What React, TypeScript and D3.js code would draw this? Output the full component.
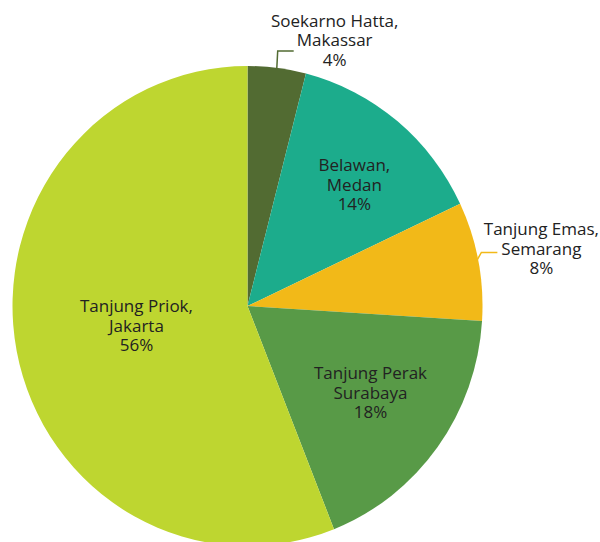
import React, { useEffect, useRef } from "react";
import * as d3 from "d3";

const ports = [
  "Soekarno Hatta,|Makassar",
  "Belawan,|Medan",
  "Tanjung Emas,|Semarang",
  "Tanjung Perak|Surabaya",
  "Tanjung Priok,|Jakarta",
];
const shares = [4, 14, 8, 18, 56];
const colors = ["#526b32", "#1cac8c", "#f2b918", "#589a47", "#bed630"];
// where the label sits: inside the slice, or outside with a leader line
const outside = [true, false, true, false, false];

export default function App() {
  const ref = useRef<SVGSVGElement>(null);

  useEffect(() => {
    const width = 600;
    const height = 542;
    const cx = 247.5;
    const cy = 306;
    const r = 235;
    const sy = 240 / 235; // source picture is a little taller than wide

    const svg = d3.select(ref.current);
    svg.selectAll("*").remove();
    svg.attr("width", width).attr("height", height);

    const data = shares.map((v, i) => ({ name: ports[i], value: v, color: colors[i], out: outside[i] }));

    const pie = d3
      .pie<any>()
      .sort(null)
      .value((d) => d.value);
    const arcs = pie(data);

    const arc = d3.arc<any>().innerRadius(0).outerRadius(r);

    //slices
    svg
      .append("g")
      .attr("transform", `translate(${cx},${cy}) scale(1,${sy})`)
      .selectAll("path")
      .data(arcs)
      .enter()
      .append("path")
      .attr("fill", (d) => d.data.color)
      .attr("d", (d) => arc(d));

    const pt = (a: number, rad: number) => [cx + rad * Math.sin(a), cy - rad * Math.cos(a) * sy];

    const labels = svg
      .append("g")
      .attr("font-family", "'Open Sans', sans-serif")
      .attr("font-size", 17)
      .attr("fill", "#222")
      .attr("text-anchor", "middle");

    arcs.forEach((d) => {
      const mid = (d.startAngle + d.endAngle) / 2;
      const lines = [d.data.name.split("|")[0], d.data.name.split("|")[1], d.data.value + "%"];
      let x: number, y: number;
      if (!d.data.out) {
        const lr = d.data.value > 50 ? 110 : 152;
        [x, y] = pt(mid, lr);
        if (d.data.value > 50) x -= 3;
        else if (d.startAngle < Math.PI / 2) x += 10;
        else y -= 3;
        y = y - 15;
      } else {
        const [ex, ey] = pt(mid, r - 2);
        const small = d.data.value < 5;
        const elbow = small ? [ex + 1, ey - 19] : [ex + 5, ey - 9];
        svg
          .append("polyline")
          .attr("fill", "none")
          .attr("stroke", d.data.color)
          .attr("stroke-width", 1.5)
          .attr("points", `${ex},${ey} ${elbow[0]},${elbow[1]} ${elbow[0] + 16},${elbow[1]}`);
        if (small) {
          x = elbow[0] + 57;
          y = elbow[1] - 24;
        } else {
          x = elbow[0] + 60;
          y = elbow[1] - 17;
        }
      }
      const t = labels.append("text").attr("x", x).attr("y", y);
      lines.forEach((s, i) => {
        t.append("tspan")
          .attr("x", x)
          .attr("dy", i === 0 ? 0 : 19.5)
          .text(s);
      });
    });
  }, []);

  return <svg ref={ref} style={{ position: "absolute", left: 0, top: 0 }}></svg>;
}
